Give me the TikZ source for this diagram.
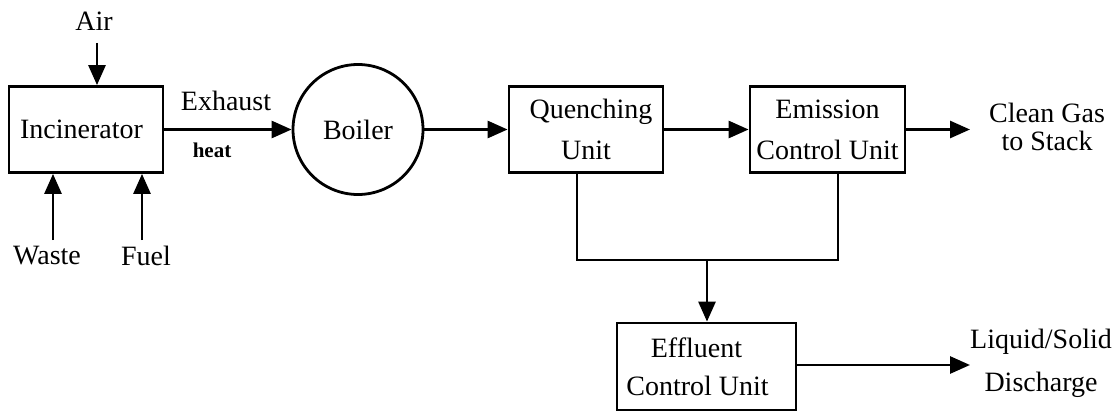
\documentclass[tikz,border=0pt]{standalone}
\usepackage{fontspec}
\setmainfont{Liberation Serif}
\usetikzlibrary{arrows.meta}
\tikzset{
	unit/.style={draw, line width=2.8pt, align=center, inner sep=0pt,
		font=\fontsize{28}{41}\selectfont},
	flow/.style={line width=2.8pt, -{Triangle[length=20pt,width=17pt]}},
	pipe/.style={line width=2.8pt},
	tag/.style={align=center, inner sep=2pt, font=\fontsize{28}{28}\selectfont},
}
\begin{document}
\begin{tikzpicture}[x=1pt,y=-1pt]
		\useasboundingbox (0,0) rectangle (1119,412);
		% units
		\node[unit, minimum width=154pt, minimum height=86pt] (inc) at (86,129.5) {Incinerator\hspace*{9pt}};
		\node[unit, circle, minimum size=130pt] (boil) at (358,129.5) {Boiler};
		\node[unit, minimum width=154pt, minimum height=86pt] (quen) at (586,129.5) {\hspace*{10pt}Quenching\\Unit};
		\node[unit, minimum width=155pt, minimum height=86pt] (emis) at (827.5,129.5) {Emission\\Control Unit};
		\node[unit, minimum width=179pt, minimum height=87pt] (effl) at (706.5,366.5) {Effluent\hspace*{20pt}\\[-3pt]Control Unit\hspace*{18pt}};
		% labels
		\node[tag] (air) at (94,21) {Air};
		\node[tag] (waste) at (47,256) {Waste};
		\node[tag] (fuel) at (146,256) {Fuel};
		\node[tag] (exh) at (226,101) {Exhaust};
		\node[tag, font=\bfseries\fontsize{21}{22}\selectfont] (heat) at (212,150) {heat};
		\node[tag] (gas) at (1047,127) {Clean Gas\\to Stack};
		\node[tag, font=\fontsize{28}{43}\selectfont] (disc) at (1041,363) {Liquid/Solid\\Discharge};
		% free ends
		\coordinate (airin) at (97,43);
		\coordinate (wastein) at (53,240);
		\coordinate (fuelin) at (142,240);
		\coordinate (gasout) at (970,129.5);
		\coordinate (discout) at (970,365);
		\coordinate (split) at (707,260);
		% streams
		\draw[flow] (airin) -- (airin |- inc.north);
		\foreach \s in {wastein,fuelin}
		{
			\draw[flow] (\s) -- (\s |- inc.south);
		}
		\draw[flow] (inc) -- (boil);
		\draw[flow] (boil) -- (quen);
		\draw[flow] (quen) -- (emis);
		\draw[flow] (emis.east) -- (gasout);
		\draw[pipe] ([xshift=-9pt]quen.south) |- (split) -| ([xshift=10.5pt]emis.south);
		\draw[flow] (split) -- (split |- effl.north);
		\draw[flow] (effl.east |- discout) -- (discout);
\end{tikzpicture}
\end{document}
